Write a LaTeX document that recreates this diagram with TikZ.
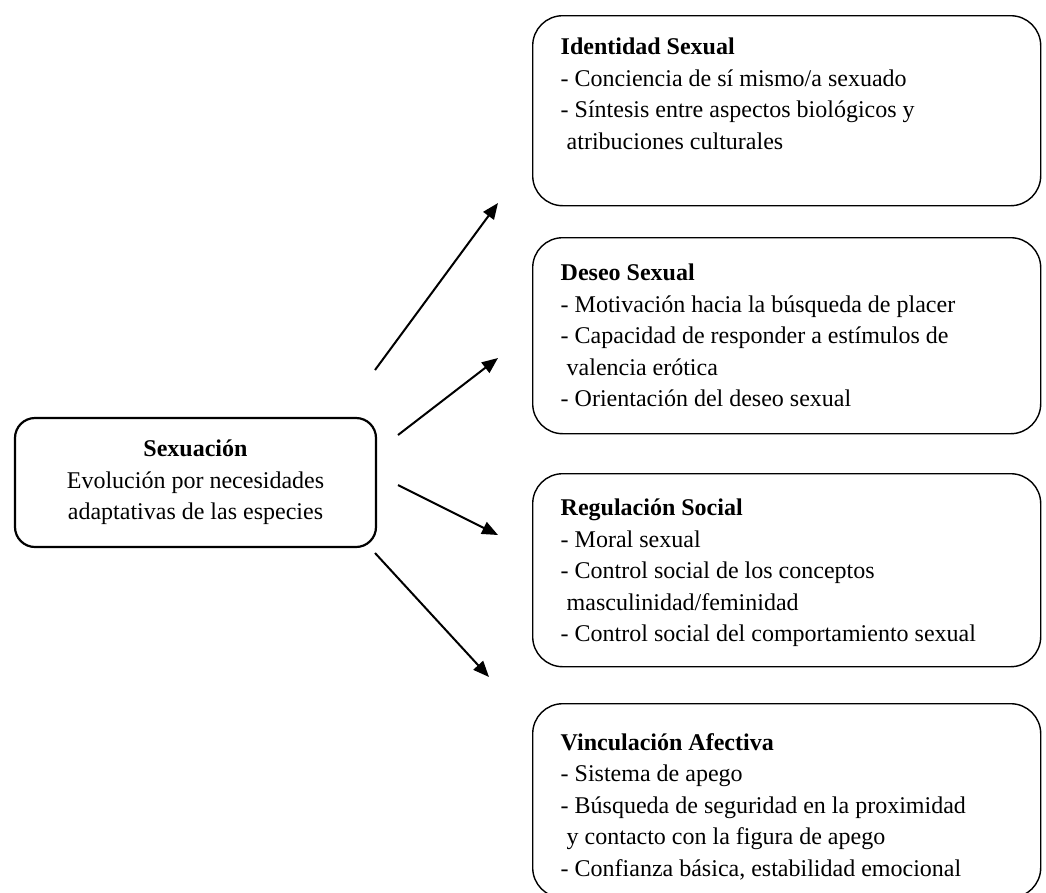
\documentclass[tikz,border=0pt]{standalone}
\usepackage{fontspec}
\setmainfont{Liberation Serif}
\usetikzlibrary{arrows.meta}
\begin{document}
\begin{tikzpicture}[x=1pt,y=-1pt,
  font=\fontsize{24}{31.5}\selectfont,
  rbox/.style={draw, line width=1.4pt, rounded corners=30pt, anchor=north west,
    inner sep=0pt, minimum width=508pt},
  cbox/.style={draw, line width=2.2pt, rounded corners=20pt, inner sep=0pt,
    align=center, minimum width=361pt, minimum height=129pt},
  body/.style={anchor=north west, inner sep=0pt, align=left},
  link/.style={line width=2pt, -{Triangle[length=16pt,width=13pt]}}
]
\useasboundingbox (0,0) rectangle (1046,892);

% central concept
\node[cbox] (sex) at (195.5,482.5)
  {\textbf{Sexuación}\\Evolución por necesidades\\adaptativas de las especies};

% the four dimensions
\node[rbox, minimum height=190pt] (ident) at (532,15) {};
\node[rbox, minimum height=196pt] (deseo) at (532,237) {};
\node[rbox, minimum height=193pt] (regul) at (532,473) {};
\node[rbox, minimum height=194pt] (vinc)  at (532,703) {};

\node[body] (identT) at (560.5,38)
  {\textbf{Identidad Sexual}\\
   - Conciencia de sí mismo/a sexuado\\
   - Síntesis entre aspectos biológicos y\\
   \hspace*{0.25em}atribuciones culturales};

\node[body] (deseoT) at (560.5,264)
  {\textbf{Deseo Sexual}\\
   - Motivación hacia la búsqueda de placer\\
   - Capacidad de responder a estímulos de\\
   \hspace*{0.25em}valencia erótica\\
   - Orientación del deseo sexual};

\node[body] (regulT) at (560.5,499)
  {\textbf{Regulación Social}\\
   - Moral sexual\\
   - Control social de los conceptos\\
   \hspace*{0.25em}masculinidad/feminidad\\
   - Control social del comportamiento sexual};

\node[body] (vincT) at (560.5,733)
  {\textbf{Vinculación Afectiva}\\
   - Sistema de apego\\
   - Búsqueda de seguridad en la proximidad\\
   \hspace*{0.25em}y contacto con la figura de apego\\
   - Confianza básica, estabilidad emocional};

% arrow ends
\coordinate (s1) at (375,370);  \coordinate (e1) at (498,203);
\coordinate (s2) at (398,435);  \coordinate (e2) at (498,358);
\coordinate (s3) at (398,485);  \coordinate (e3) at (498,535);
\coordinate (s4) at (375,553);  \coordinate (e4) at (489,677);

\draw[link] (s1) -- (e1);
\draw[link] (s2) -- (e2);
\draw[link] (s3) -- (e3);
\draw[link] (s4) -- (e4);
\end{tikzpicture}
\end{document}
